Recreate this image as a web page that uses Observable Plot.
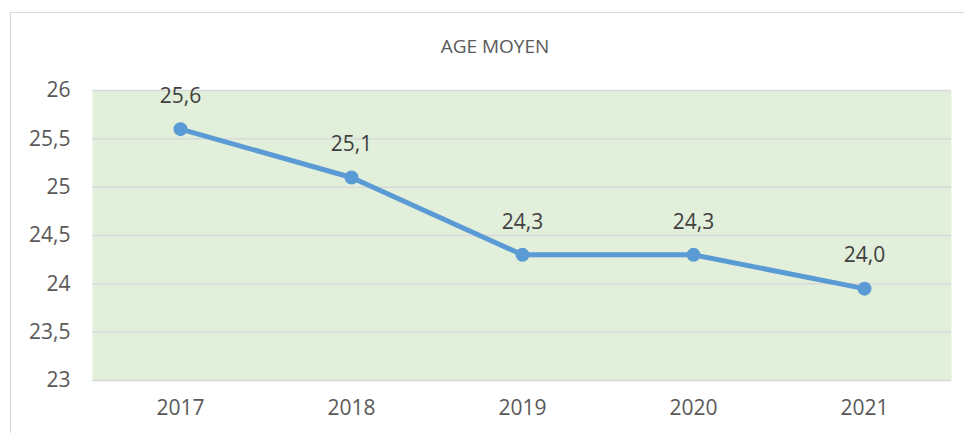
<!DOCTYPE html>
<html>
<head>
<meta charset="utf-8">
<script src="https://cdn.jsdelivr.net/npm/d3@7"></script>
<script src="https://cdn.jsdelivr.net/npm/@observablehq/plot@0.6"></script>
<style>
  html, body { margin: 0; padding: 0; background: #fff; }
  #wrap { position: relative; width: 964px; height: 433px; overflow: hidden; font-family: "Open Sans", sans-serif; }
  #border { position: absolute; left: 10px; top: 12px; width: 960px; height: 430px; border: 1px solid #d9d9d9; box-sizing: border-box; }
  #title { position: absolute; left: 0; width: 990px; top: 33px; text-align: center; font-size: 19px; color: #595959; }
  #chart { position: absolute; left: 0; top: 0; }
</style>
</head>
<body>
<div id="wrap">
  <div id="border"></div>
  <div id="title">AGE MOYEN</div>
  <div id="chart"></div>
</div>
<script>
const years = ["2017", "2018", "2019", "2020", "2021"];
const ages = [25.6, 25.1, 24.3, 24.3, 23.95];
const labels = ["25,6", "25,1", "24,3", "24,3", "24,0"];
const yTicks = [23, 23.5, 24, 24.5, 25, 25.5, 26];

const data = years.map((y, i) => ({year: y, age: ages[i], label: labels[i]}));
const fmt = d => String(d).replace(".", ",");

const chart = Plot.plot({
  width: 964,
  height: 433,
  marginLeft: 92,
  marginRight: 13,
  marginTop: 90,
  marginBottom: 53,
  style: {fontFamily: "Open Sans, sans-serif", background: "transparent", overflow: "visible"},
  x: {type: "point", domain: years, padding: 0.5, label: null},
  y: {domain: [23, 26], label: null},
  marks: [
    Plot.frame({fill: "#e2efda", stroke: null}),
    Plot.gridY(yTicks, {stroke: "#d9d9d9", strokeOpacity: 1, strokeWidth: 1.5}),
    Plot.axisY(yTicks, {tickSize: 0, tickPadding: 22, tickFormat: fmt, fontSize: 21, fill: "#595959", label: null}),
    Plot.axisX({tickSize: 0, tickPadding: 20, fontSize: 21, fill: "#595959", label: null}),
    Plot.line(data, {x: "year", y: "age", stroke: "#5b9bd5", strokeWidth: 5, strokeLinejoin: "round"}),
    Plot.dot(data, {x: "year", y: "age", r: 7, fill: "#5b9bd5", stroke: null}),
    Plot.text(data, {x: "year", y: "age", text: "label", dy: -33, fontSize: 21, fill: "#404040"})
  ]
});
document.getElementById("chart").appendChild(chart);
</script>
</body>
</html>
